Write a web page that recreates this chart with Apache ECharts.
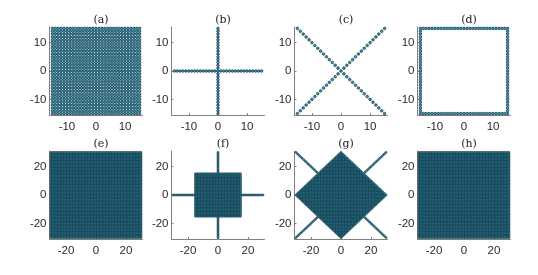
<!DOCTYPE html>
<html><head><meta charset="utf-8">
<script src="https://cdn.jsdelivr.net/npm/echarts@6/dist/echarts.min.js"></script>
<style>html,body{margin:0;padding:0;background:#fff}#c{width:538px;height:275px}</style>
</head><body><div id="c"></div>
<script>
// ---- data ----
const panelLabels = ['(a)','(b)','(c)','(d)','(e)','(f)','(g)','(h)'];
const panelShapes = ['full','cross','diagonals','border','full','squareCross','diamondDiagonals','full'];
const latticeHalf = [15,15,15,15,30,30,30,30];      // lattice extent of each panel
const innerHalf   = [0,0,0,0,0,15,30,0];             // size of inner square / diamond
const tickLabelsTop = [-10, 0, 10];
const tickLabelsBottom = [-20, 0, 20];

function inShape(shape, x, y, n, m){
  const ax = Math.abs(x), ay = Math.abs(y);
  switch(shape){
    case 'full': return true;
    case 'cross': return x === 0 || y === 0;
    case 'diagonals': return ax === ay;
    case 'border': return Math.max(ax, ay) === n;
    case 'squareCross': return (ax <= m && ay <= m) || x === 0 || y === 0;
    case 'diamondDiagonals': return (ax + ay <= m) || ax === ay;
  }
  return false;
}
function panelPoints(i){
  const n = latticeHalf[i], m = innerHalf[i], pts = [];
  for (let x = -n; x <= n; x++) for (let y = -n; y <= n; y++)
    if (inShape(panelShapes[i], x, y, n, m)) pts.push([x, y]);
  return pts;
}

// ---- layout ----
const lefts = [49.5, 171.5, 294.5, 417.5];
const W = 93, H = 88, tops = [27, 151];
const chart = echarts.init(document.getElementById('c'), null, {renderer:'canvas'});
const grids = [], xAxes = [], yAxes = [], series = [], titles = [];
const axisCol = '#808080';
for (let i = 0; i < 8; i++){
  const r = Math.floor(i/4), c = i % 4;
  const top = r === 0;
  const ticks = top ? tickLabelsTop : tickLabelsBottom;
  grids.push({left: lefts[c], top: tops[r], width: W, height: H, containLabel:false});
  const common = {
    gridIndex: i, type:'value',
    splitLine:{show:false},
    axisLine:{show:true, onZero:false, lineStyle:{color:axisCol, width:1}},
    axisTick:{show:true, inside:true, length:2, lineStyle:{color:axisCol}, customValues: ticks},
    axisLabel:{color:'#2a2a2a', fontSize:11.5, fontFamily:'Liberation Sans, Arial', customValues: ticks},
  };
  xAxes.push(Object.assign({}, common, {min: top ? -16 : -31, max: top ? 16 : 31,
    axisLabel: Object.assign({}, common.axisLabel, {margin:6})}));
  yAxes.push(Object.assign({}, common, {min: top ? -15.5 : -31, max: top ? 15.5 : 31,
    axisLabel: Object.assign({}, common.axisLabel, {margin:3})}));
  series.push({
    type:'scatter', xAxisIndex:i, yAxisIndex:i, data: panelPoints(i),
    symbol:'circle', symbolSize: top ? 2.6 : 2.0,
    itemStyle:{color: top ? '#35a6c6' : '#2f9ab8', borderColor:'#142a36', borderWidth: top ? 0.7 : 0.6, opacity:1},
    silent:true, large:false, progressive:0
  });
  titles.push({text: panelLabels[i], left: lefts[c] + W/2, top: tops[r] - 17, textAlign:'center',
    textStyle:{fontFamily:'DejaVu Serif, Liberation Serif, serif', fontWeight:'normal', fontSize:11, color:'#222'}});
}
chart.setOption({
  animation:false,
  title: titles,
  grid: grids, xAxis: xAxes, yAxis: yAxes, series: series
});
</script></body></html>
